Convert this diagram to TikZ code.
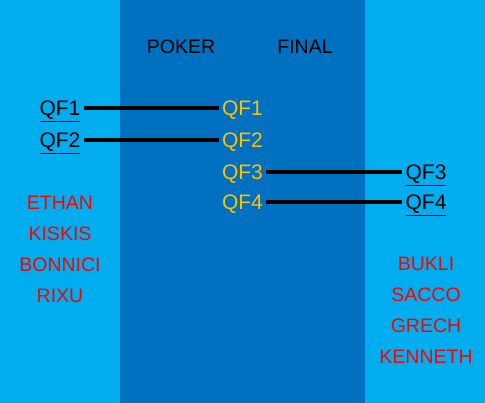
\documentclass[tikz,border=0pt]{standalone}
\usepackage{fontspec}
\setmainfont{Liberation Sans}
\usetikzlibrary{positioning}
\definecolor{sidecol}{RGB}{0,174,239}
\definecolor{midcol}{RGB}{0,112,192}
\definecolor{qfyellow}{RGB}{255,192,0}
\tikzset{
  qf/.style={inner xsep=3pt,inner ysep=0pt,text height=15pt,text depth=0pt,font=\fontsize{21}{25}\selectfont},
  team/.style={text=red,align=center,font=\fontsize{19.5}{31}\selectfont},
  head/.style={font=\fontsize{19.5}{24}\selectfont},
  link/.style={line width=4pt}
}
\begin{document}
\begin{tikzpicture}[x=1pt,y=-1pt]
      \useasboundingbox (0,0) rectangle (485,403);
      % bands
      \fill[sidecol] (0,0) rectangle (120,403);
      \fill[midcol] (120,0) rectangle (365,403);
      \fill[sidecol] (365,0) rectangle (485,403);
      \node[head] (poker) at (181,47) {POKER};
      \node[head] (final) at (305,47) {FINAL};
      % quarter finals
      \node[qf] (lqf1) at (60,108.5) {\underline{QF1}};
      \node[qf] (lqf2) at (60,140.5) {\underline{QF2}};
      \node[qf,text=qfyellow] (fqf1) at (242.5,108.5) {QF1};
      \node[qf,text=qfyellow] (fqf2) at (242.5,140.5) {QF2};
      \node[qf,text=qfyellow] (fqf3) at (242.5,172) {QF3};
      \node[qf,text=qfyellow] (fqf4) at (242.5,202) {QF4};
      \node[qf] (rqf3) at (426,172) {\underline{QF3}};
      \node[qf] (rqf4) at (426,202) {\underline{QF4}};
      \draw[link] (lqf1) -- (fqf1);
      \draw[link] (lqf2) -- (fqf2);
      \draw[link] (fqf3) -- (rqf3);
      \draw[link] (fqf4) -- (rqf4);
      % players
      \node[team] (lteam) at (60,249) {ETHAN\\KISKIS\\BONNICI\\RIXU};
      \node[team] (rteam) at (426,310) {BUKLI\\SACCO\\GRECH\\KENNETH};
\end{tikzpicture}
\end{document}
